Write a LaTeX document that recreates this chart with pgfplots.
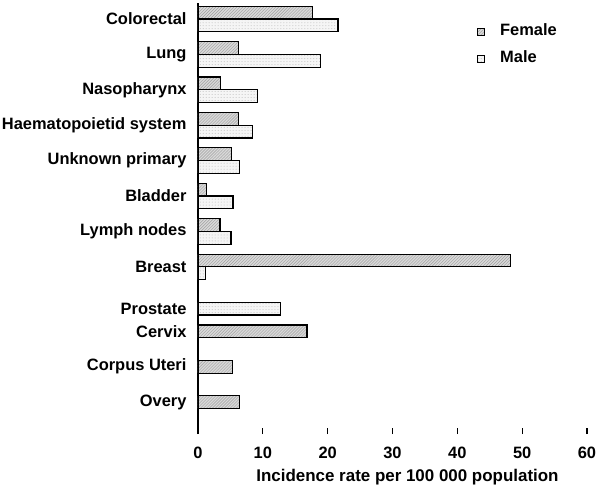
\documentclass[border=0pt]{standalone}
\usepackage{fontspec}
\setmainfont{Liberation Sans}
\usepackage{pgfplots}
\pgfplotsset{compat=1.18}
\usetikzlibrary{patterns}
\begin{document}
\begin{tikzpicture}
\useasboundingbox (-198bp,-64bp) rectangle (402bp,428bp);
\begin{axis}[
  at={(0,0)}, anchor=south west,
  scale only axis, width=389bp, height=425bp,
  xbar, bar width=0.36, bar shift=0pt,
  xmin=0, xmax=60, ymin=-0.45, ymax=11.55, y dir=reverse,
  axis x line*=bottom, axis y line*=left,
  x axis line style={draw=none},
  y axis line style={line width=1.6bp},
  xtick={0,10,...,60},
  tick align=outside, major tick length=6bp,
  xtick style={black, line width=1.2bp},
  ytick style={draw=none},
  ytick={0,1,2,3,4,5,6,7,8.18,8.82,9.82,10.82},
  yticklabels={Colorectal,Lung,Nasopharynx,Haematopoietid system,Unknown primary,Bladder,Lymph nodes,Breast,Prostate,Cervix,Corpus Uteri,Overy},
  /pgf/number format/assume math mode=true,
  ticklabel style={font=\fontsize{16.5}{19}\selectfont\bfseries},
  xticklabel style={yshift=-9bp},
  yticklabel style={xshift=-2bp},
  xlabel={Incidence rate per 100 000 population},
  xlabel style={font=\fontsize{17}{19}\selectfont\bfseries, yshift=-4bp, xshift=15bp},
  legend style={draw=none, fill=none, at={(rel axis cs:0.71,0.962)}, anchor=north west,
    font=\fontsize{16.5}{19}\selectfont\bfseries, row sep=10bp, column sep=13bp, cells={anchor=west}},
  legend image code/.code={\draw[#1, line width=0.8bp] (0bp,-5bp) rectangle (7bp,2bp);},
]
\addplot[draw=black, line width=1.2bp, fill=gray!30, postaction={pattern=north east lines, pattern color=gray!75}]
  coordinates {(17.6,-0.18) (6.2,0.82) (3.5,1.82) (6.2,2.82) (5.2,3.82) (1.3,4.82) (3.4,5.82) (48.2,6.82) (16.8,8.82) (5.3,9.82) (6.4,10.82)};
\addlegendentry{Female}
\addplot[draw=black, line width=1.2bp, fill=gray!8, postaction={pattern=dots, pattern color=gray!55}]
  coordinates {(21.6,0.18) (18.9,1.18) (9.2,2.18) (8.4,3.18) (6.4,4.18) (5.4,5.18) (5.1,6.18) (1.1,7.18) (12.7,8.18)};
\addlegendentry{Male}
\end{axis}
\end{tikzpicture}
\end{document}
